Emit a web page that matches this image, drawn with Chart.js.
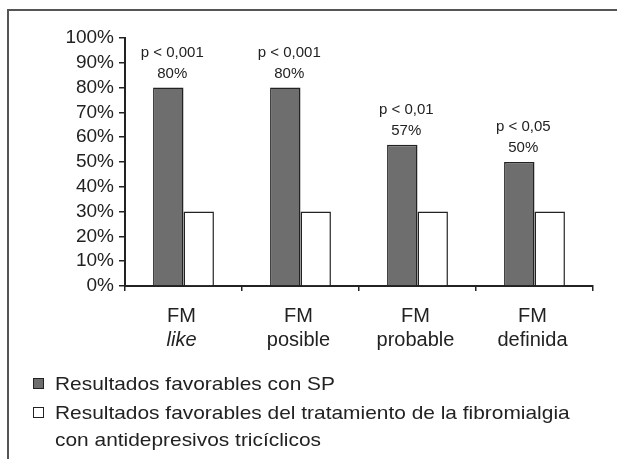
<!DOCTYPE html>
<html>
<head>
<meta charset="utf-8">
<script src="https://cdn.jsdelivr.net/npm/chart.js@4/dist/chart.umd.min.js"></script>
<style>
  html, body { margin: 0; padding: 0; background: #fff; }
  #wrap { width: 617px; height: 459px; position: relative; }
</style>
</head>
<body>
<div id="wrap"><canvas id="c" width="617" height="459"></canvas></div>
<script>
// ---- data ----
const categoriesLine1 = ['FM', 'FM', 'FM', 'FM'];
const categoriesLine2 = ['like', 'posible', 'probable', 'definida'];
const seriesSP = [80, 80, 57, 50];
const seriesTCA = [30, 30, 30, 30];
const pValueLabels = ['p < 0,001', 'p < 0,001', 'p < 0,01', 'p < 0,05'];
const yTickLabels = ['0%', '10%', '20%', '30%', '40%', '50%', '60%', '70%', '80%', '90%', '100%'];
const legendSP = ['Resultados favorables con SP'];
const legendTCA = ['Resultados favorables del tratamiento de la fibromialgia', 'con antidepresivos tricíclicos'];
const italicWords = new Set(['like']);

const FONT = '"Liberation Sans", Arial, Helvetica, sans-serif';
const INK = '#222222';
const GRAY = '#6e6e6e';

const framePlugin = {
  id: 'frame',
  afterDraw(chart) {
    const ctx = chart.ctx;
    ctx.save();
    ctx.strokeStyle = '#555555';
    ctx.lineWidth = 2;
    ctx.beginPath();
    ctx.moveTo(8, 459);
    ctx.lineTo(8, 10);
    ctx.lineTo(617, 10);
    ctx.stroke();
    ctx.restore();
  }
};

const xLabelPlugin = {
  id: 'xlabels',
  afterDraw(chart) {
    const ctx = chart.ctx;
    const xs = chart.scales.x;
    const base = chart.chartArea.bottom;
    ctx.save();
    ctx.fillStyle = INK;
    ctx.textAlign = 'center';
    ctx.textBaseline = 'alphabetic';
    categoriesLine1.forEach((t, i) => {
      const x = xs.getPixelForValue(i) - 2;
      ctx.font = '20px ' + FONT;
      ctx.fillText(t, x, base + 36);
      const t2 = categoriesLine2[i];
      ctx.font = (italicWords.has(t2) ? 'italic ' : '') + '20px ' + FONT;
      ctx.fillText(t2, x, base + 60);
    });
    ctx.restore();
  }
};

const annotPlugin = {
  id: 'annot',
  afterDatasetsDraw(chart) {
    const ctx = chart.ctx;
    const meta = chart.getDatasetMeta(0);
    ctx.save();
    ctx.fillStyle = INK;
    ctx.textAlign = 'center';
    ctx.textBaseline = 'alphabetic';
    ctx.font = '15px ' + FONT;
    meta.data.forEach((bar, i) => {
      const x = bar.x + 4;
      ctx.fillText(seriesSP[i] + '%', x, bar.y - 10);
      ctx.fillText(pValueLabels[i], x, bar.y - 31);
    });
    ctx.restore();
  }
};

const legendPlugin = {
  id: 'customLegend',
  afterDraw(chart) {
    const ctx = chart.ctx;
    ctx.save();
    ctx.font = '19px ' + FONT;
    ctx.textBaseline = 'alphabetic';
    ctx.textAlign = 'left';
    const items = [
      { lines: chart.data.datasets[0].legendLines, fill: chart.data.datasets[0].backgroundColor, y: 390 },
      { lines: chart.data.datasets[1].legendLines, fill: chart.data.datasets[1].backgroundColor, y: 419 }
    ];
    items.forEach(it => {
      ctx.fillStyle = it.fill;
      ctx.strokeStyle = INK;
      ctx.lineWidth = 1;
      ctx.fillRect(33.5, it.y - 11.5, 10, 10);
      ctx.strokeRect(33.5, it.y - 11.5, 10, 10);
      ctx.fillStyle = INK;
      it.lines.forEach((ln, k) => {
        ctx.save();
        ctx.translate(55, it.y + k * 26.5);
        ctx.scale(1.1, 1);
        ctx.fillText(ln, 0, 0);
        ctx.restore();
      });
    });
    ctx.restore();
  }
};

new Chart(document.getElementById('c'), {
  type: 'bar',
  data: {
    labels: categoriesLine2,
    datasets: [
      {
        label: legendSP[0],
        legendLines: legendSP,
        data: seriesSP,
        backgroundColor: GRAY,
        borderColor: INK,
        borderWidth: 1.5,
        categoryPercentage: 0.52,
        barPercentage: 1
      },
      {
        label: legendTCA.join(' '),
        legendLines: legendTCA,
        data: seriesTCA,
        backgroundColor: '#ffffff',
        borderColor: INK,
        borderWidth: 1.5,
        categoryPercentage: 0.52,
        barPercentage: 1
      }
    ]
  },
  options: {
    responsive: false,
    devicePixelRatio: 1,
    animation: false,
    events: [],
    layout: { padding: { left: 0, right: 24, top: 38, bottom: 0 } },
    plugins: {
      legend: { display: false },
      tooltip: { enabled: false },
      title: { display: false }
    },
    scales: {
      x: {
        offset: true,
        grid: { offset: true, drawOnChartArea: false, drawTicks: true, tickLength: 5, color: INK, lineWidth: 1.5 },
        border: { display: true, color: INK, width: 2 },
        ticks: { display: false },
        afterFit(s) { s.height = 173; }
      },
      y: {
        min: 0,
        max: 100,
        ticks: {
          stepSize: 10,
          autoSkip: false,
          padding: 5,
          color: INK,
          font: { family: FONT, size: 19 },
          callback: (v, i) => yTickLabels[i]
        },
        grid: { drawOnChartArea: false, drawTicks: true, tickLength: 6, color: INK, lineWidth: 1.5 },
        border: { display: true, color: INK, width: 2 },
        afterFit(s) { s.width = 125; }
      }
    }
  },
  plugins: [framePlugin, xLabelPlugin, annotPlugin, legendPlugin]
});
</script>
</body>
</html>
